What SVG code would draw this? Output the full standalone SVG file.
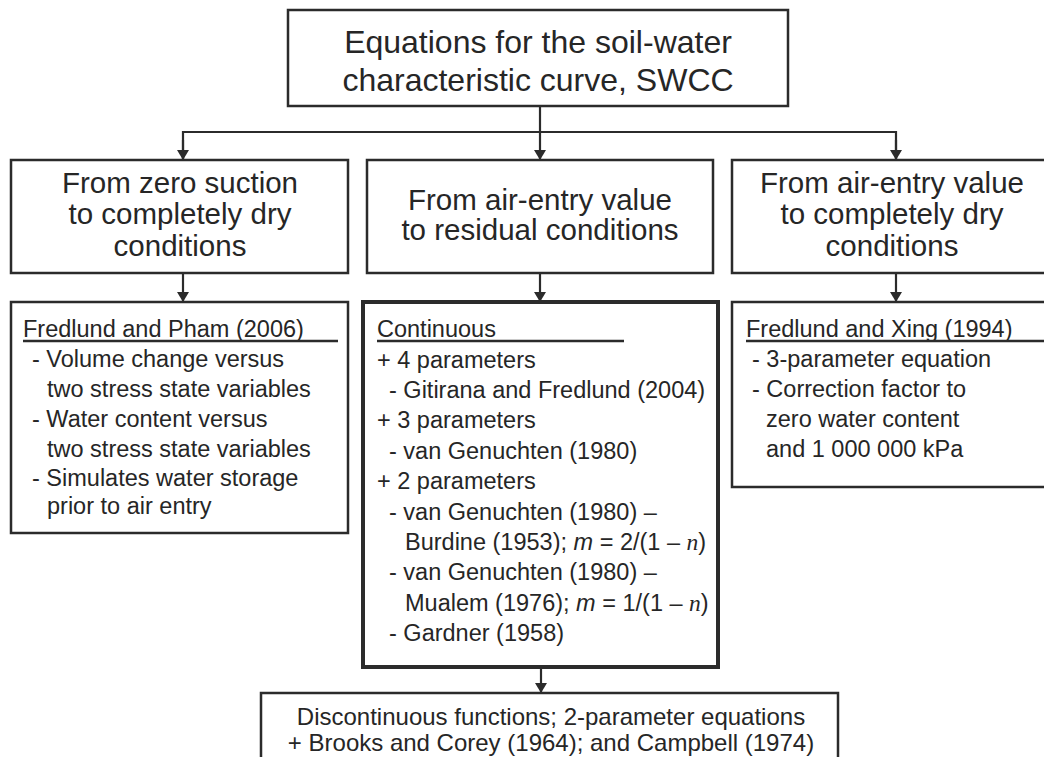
<svg xmlns="http://www.w3.org/2000/svg" width="1044" height="757" viewBox="0 0 1044 757">
<defs>
<marker id="ah" viewBox="0 0 10 12" refX="10" refY="6" markerWidth="10" markerHeight="12" markerUnits="userSpaceOnUse" orient="auto">
<path d="M0,0 L10,6 L0,12 Z" fill="#2b2b2b"/>
</marker>
</defs>
<style>
.box{fill:#fff;stroke:#2b2b2b;stroke-width:2.5}
.thick{fill:#fff;stroke:#2b2b2b;stroke-width:4}
.ttl{font-family:"Liberation Sans",Arial,sans-serif;font-size:32px;fill:#262626;text-anchor:middle}
.hd{font-family:"Liberation Sans",Arial,sans-serif;font-size:29.5px;fill:#262626;text-anchor:middle}
.tx{font-family:"Liberation Sans",Arial,sans-serif;font-size:23.5px;fill:#262626}
.bt{font-family:"Liberation Sans",Arial,sans-serif;font-size:24px;fill:#262626;text-anchor:middle}
.ul{stroke:#2b2b2b;stroke-width:2.5}
.cn{fill:none;stroke:#2b2b2b;stroke-width:2.2}
</style>
<rect width="1044" height="757" fill="#fff"/>
<g id="connectors">
<path class="cn" d="M540,106 L540,160" marker-end="url(#ah)"/>
<path class="cn" d="M183,160 L183,132 L896,132 L896,160" />
<path class="cn" d="M183,140 L183,160" marker-end="url(#ah)"/>
<path class="cn" d="M896,140 L896,160" marker-end="url(#ah)"/>
<path class="cn" d="M183,273 L183,302" marker-end="url(#ah)"/>
<path class="cn" d="M540,273 L540,302" marker-end="url(#ah)"/>
<path class="cn" d="M896,273 L896,302" marker-end="url(#ah)"/>
<path class="cn" d="M541,667 L541,693" marker-end="url(#ah)"/>
</g>
<g id="top">
<rect class="box" x="288" y="10" width="500" height="96"/>
<text class="ttl" x="538" y="53">Equations for the soil-water</text>
<text class="ttl" x="538" y="91">characteristic curve, SWCC</text>
</g>
<g id="mid-left">
<rect class="box" x="11" y="160" width="337" height="113"/>
<text class="hd" x="180" y="193">From zero suction</text>
<text class="hd" x="180" y="224">to completely dry</text>
<text class="hd" x="180" y="256">conditions</text>
</g>
<g id="mid-center">
<rect class="box" x="367" y="160" width="346" height="113"/>
<text class="hd" x="540" y="210">From air-entry value</text>
<text class="hd" x="540" y="240">to residual conditions</text>
</g>
<g id="mid-right">
<rect class="box" x="732" y="160" width="320" height="113"/>
<text class="hd" x="892" y="193">From air-entry value</text>
<text class="hd" x="892" y="224">to completely dry</text>
<text class="hd" x="892" y="256">conditions</text>
</g>
<g id="low-left">
<rect class="box" x="11" y="302" width="337" height="231"/>
<text class="tx" x="23" y="337">Fredlund and Pham (2006)</text>
<line class="ul" x1="23" y1="341" x2="338" y2="341"/>
<text class="tx" x="32" y="367">- Volume change versus</text>
<text class="tx" x="47" y="397">two stress state variables</text>
<text class="tx" x="32" y="427">- Water content versus</text>
<text class="tx" x="47" y="457">two stress state variables</text>
<text class="tx" x="32" y="486">- Simulates water storage</text>
<text class="tx" x="47" y="514">prior to air entry</text>
</g>
<g id="low-center">
<rect class="thick" x="363" y="302" width="355" height="365"/>
<text class="tx" x="377" y="337">Continuous</text>
<line class="ul" x1="377" y1="341" x2="624" y2="341"/>
<text class="tx" x="377" y="368">+ 4 parameters</text>
<text class="tx" x="389" y="398">- Gitirana and Fredlund (2004)</text>
<text class="tx" x="377" y="428">+ 3 parameters</text>
<text class="tx" x="389" y="459">- van Genuchten (1980)</text>
<text class="tx" x="377" y="489">+ 2 parameters</text>
<text class="tx" x="389" y="520">- van Genuchten (1980) –</text>
<text class="tx" x="405" y="550">Burdine (1953); <tspan font-style="italic">m</tspan> = 2/(1 – <tspan font-family="'Liberation Serif',serif" font-style="italic">n</tspan>)</text>
<text class="tx" x="389" y="580">- van Genuchten (1980) –</text>
<text class="tx" x="405" y="611">Mualem (1976); <tspan font-style="italic">m</tspan> = 1/(1 – <tspan font-family="'Liberation Serif',serif" font-style="italic">n</tspan>)</text>
<text class="tx" x="389" y="641">- Gardner (1958)</text>
</g>
<g id="low-right">
<rect class="box" x="732" y="302" width="320" height="185"/>
<text class="tx" x="746" y="337">Fredlund and Xing (1994)</text>
<line class="ul" x1="746" y1="341" x2="1044" y2="341"/>
<text class="tx" x="752" y="367">- 3-parameter equation</text>
<text class="tx" x="752" y="397">- Correction factor to</text>
<text class="tx" x="766" y="427">zero water content</text>
<text class="tx" x="766" y="457">and 1 000 000 kPa</text>
</g>
<g id="bottom">
<rect class="box" x="261" y="693" width="577" height="80"/>
<text class="bt" x="551" y="725">Discontinuous functions; 2-parameter equations</text>
<text class="bt" x="551" y="751">+ Brooks and Corey (1964); and Campbell (1974)</text>
</g>
</svg>
